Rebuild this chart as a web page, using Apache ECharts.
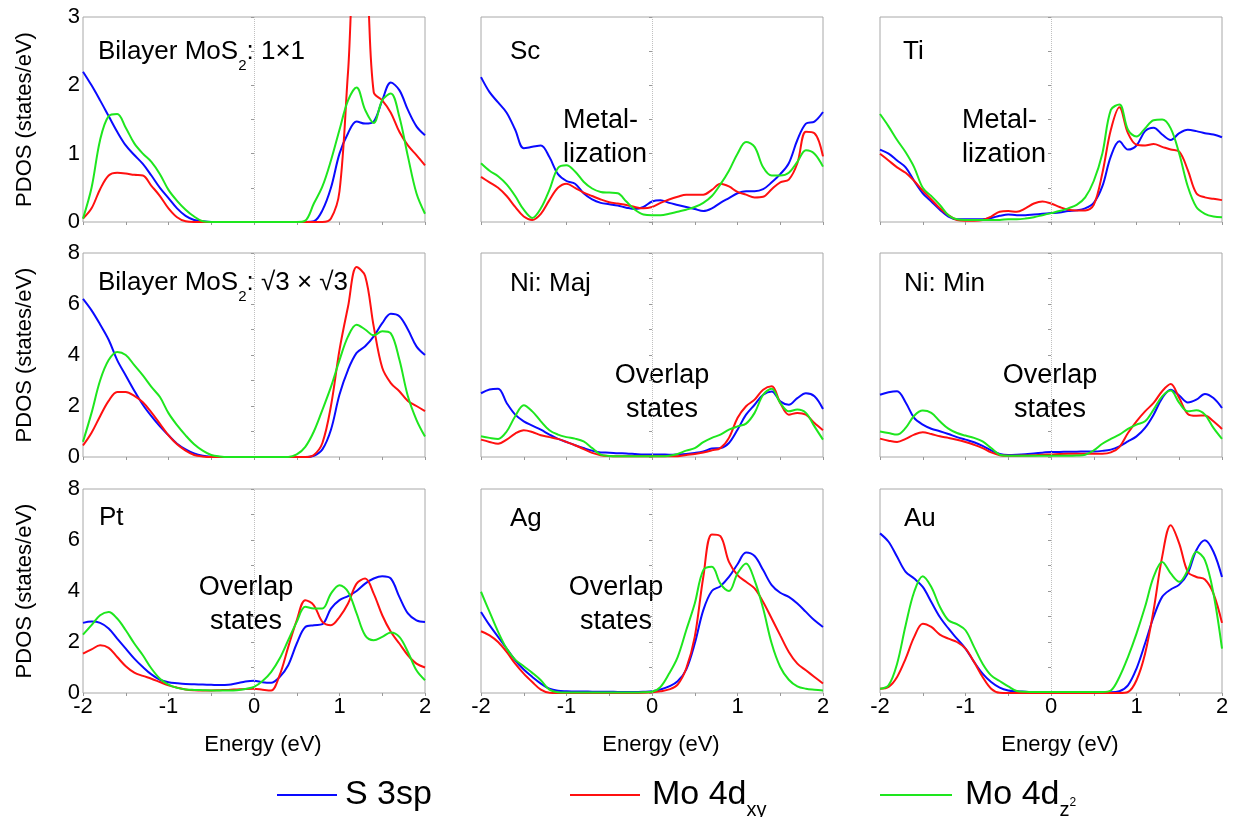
<!DOCTYPE html>
<html>
<head>
<meta charset="utf-8">
<title>PDOS panels</title>
<script src="https://cdn.jsdelivr.net/npm/echarts@6/dist/echarts.min.js"></script>
<style>
  html, body { margin: 0; padding: 0; background: #fff; }
  #main { width: 1240px; height: 817px; }
</style>
</head>
<body>
<div id="main"></div>
<script>
// energy grid in eV, shared by all nine panels
var energy = [-2.0, -1.9, -1.8, -1.7, -1.6, -1.5, -1.4, -1.3, -1.2, -1.1, -1.0,
              -0.9, -0.8, -0.7, -0.6, -0.5, -0.4, -0.3, -0.2, -0.1, 0.0,
               0.1,  0.2,  0.3,  0.4,  0.5,  0.6,  0.7,  0.8,  0.9, 1.0,
               1.1,  1.2,  1.3,  1.4,  1.5,  1.6,  1.7,  1.8,  1.9, 2.0];

// Bilayer MoS2: 1x1
var bl11S  = [2.2, 2.0, 1.78, 1.55, 1.32, 1.12, 0.98, 0.85, 0.68, 0.5, 0.35, 0.2, 0.09, 0.03, 0.01, 0, 0, 0, 0, 0, 0, 0, 0, 0, 0, 0, 0, 0.01, 0.17, 0.5, 1.0, 1.3, 1.47, 1.44, 1.47, 1.78, 2.04, 1.93, 1.64, 1.4, 1.27];
var bl11XY = [0.05, 0.2, 0.48, 0.68, 0.72, 0.71, 0.69, 0.68, 0.53, 0.38, 0.2, 0.07, 0.01, 0, 0, 0, 0, 0, 0, 0, 0, 0, 0, 0, 0, 0, 0, 0, 0, 0.05, 0.45, 2.2, 3.9, 3.8, 1.9, 1.78, 1.6, 1.32, 1.12, 0.98, 0.83];
var bl11Z2 = [0.05, 0.5, 1.2, 1.55, 1.58, 1.38, 1.15, 1.0, 0.88, 0.7, 0.47, 0.31, 0.18, 0.08, 0.01, 0, 0, 0, 0, 0, 0, 0, 0, 0, 0, 0, 0.02, 0.27, 0.52, 0.9, 1.35, 1.78, 1.97, 1.64, 1.45, 1.78, 1.88, 1.54, 0.96, 0.42, 0.12];
// Sc
var scS  = [2.12, 1.9, 1.75, 1.6, 1.35, 1.08, 1.1, 1.12, 0.95, 0.7, 0.6, 0.56, 0.42, 0.33, 0.28, 0.26, 0.24, 0.21, 0.19, 0.22, 0.3, 0.32, 0.28, 0.25, 0.22, 0.19, 0.16, 0.2, 0.28, 0.35, 0.42, 0.45, 0.45, 0.48, 0.58, 0.7, 0.86, 1.2, 1.44, 1.47, 1.61];
var scXY = [0.66, 0.58, 0.5, 0.38, 0.22, 0.08, 0.03, 0.12, 0.32, 0.5, 0.56, 0.5, 0.43, 0.38, 0.33, 0.29, 0.27, 0.25, 0.22, 0.2, 0.22, 0.28, 0.33, 0.37, 0.4, 0.4, 0.4, 0.47, 0.56, 0.52, 0.44, 0.4, 0.36, 0.37, 0.48, 0.58, 0.62, 0.86, 1.32, 1.3, 0.96];
var scZ2 = [0.86, 0.75, 0.67, 0.55, 0.38, 0.18, 0.06, 0.2, 0.47, 0.79, 0.83, 0.74, 0.59, 0.49, 0.44, 0.43, 0.42, 0.3, 0.18, 0.11, 0.1, 0.1, 0.12, 0.15, 0.18, 0.22, 0.28, 0.38, 0.55, 0.75, 1.0, 1.17, 1.1, 0.8, 0.68, 0.68, 0.72, 0.88, 1.05, 1.0, 0.81];
// Ti
var tiS  = [1.06, 1.0, 0.9, 0.8, 0.6, 0.42, 0.3, 0.18, 0.08, 0.04, 0.04, 0.04, 0.04, 0.06, 0.09, 0.11, 0.1, 0.1, 0.11, 0.12, 0.13, 0.14, 0.16, 0.17, 0.2, 0.28, 0.52, 0.96, 1.18, 1.06, 1.12, 1.33, 1.38, 1.28, 1.2, 1.3, 1.35, 1.33, 1.3, 1.28, 1.24];
var tiXY = [1.0, 0.9, 0.8, 0.72, 0.6, 0.46, 0.33, 0.2, 0.1, 0.03, 0.02, 0.02, 0.03, 0.08, 0.15, 0.16, 0.15, 0.2, 0.27, 0.3, 0.27, 0.22, 0.18, 0.17, 0.17, 0.25, 0.71, 1.35, 1.68, 1.3, 1.13, 1.12, 1.14, 1.1, 1.06, 1.03, 0.76, 0.42, 0.36, 0.34, 0.32];
var tiZ2 = [1.58, 1.4, 1.2, 1.02, 0.8, 0.5, 0.38, 0.25, 0.1, 0.04, 0.03, 0.03, 0.03, 0.03, 0.03, 0.04, 0.04, 0.05, 0.07, 0.1, 0.13, 0.16, 0.2, 0.25, 0.36, 0.6, 1.0, 1.64, 1.72, 1.35, 1.25, 1.37, 1.49, 1.5, 1.37, 1.0, 0.52, 0.22, 0.12, 0.08, 0.07];
// Bilayer MoS2: sqrt3 x sqrt3
var b33S  = [6.2, 5.75, 5.2, 4.6, 3.8, 3.2, 2.6, 2.05, 1.6, 1.2, 0.85, 0.52, 0.3, 0.14, 0.05, 0.01, 0, 0, 0, 0, 0, 0, 0, 0, 0, 0, 0, 0.05, 0.3, 1.07, 2.45, 3.42, 4.08, 4.34, 4.73, 5.25, 5.62, 5.52, 5.0, 4.34, 4.0];
var b33XY = [0.45, 0.95, 1.6, 2.2, 2.55, 2.55, 2.4, 2.15, 1.75, 1.3, 0.85, 0.5, 0.25, 0.08, 0.02, 0, 0, 0, 0, 0, 0, 0, 0, 0, 0, 0, 0, 0.08, 0.55, 2.0, 4.2, 5.9, 7.45, 7.1, 5.12, 3.5, 2.9, 2.58, 2.2, 2.0, 1.8];
var b33Z2 = [0.6, 1.73, 3.0, 3.8, 4.12, 4.0, 3.6, 3.2, 2.75, 2.35, 1.72, 1.25, 0.85, 0.5, 0.25, 0.08, 0.02, 0, 0, 0, 0, 0, 0, 0, 0, 0.1, 0.4, 1.0, 1.85, 2.75, 3.8, 4.73, 5.19, 5.0, 4.77, 4.93, 4.85, 3.82, 2.38, 1.46, 0.8];
// Ni: majority spin
var nmS  = [2.5, 2.65, 2.68, 2.12, 1.66, 1.4, 1.23, 1.07, 0.88, 0.71, 0.59, 0.46, 0.35, 0.25, 0.18, 0.17, 0.15, 0.14, 0.12, 0.1, 0.1, 0.1, 0.09, 0.1, 0.12, 0.16, 0.22, 0.33, 0.35, 0.55, 1.07, 1.66, 2.05, 2.44, 2.57, 2.18, 2.05, 2.31, 2.5, 2.38, 1.88];
var nmXY = [0.68, 0.59, 0.52, 0.68, 0.92, 1.05, 0.98, 0.85, 0.78, 0.71, 0.59, 0.46, 0.31, 0.16, 0.07, 0.04, 0.03, 0.03, 0.03, 0.03, 0.03, 0.03, 0.03, 0.03, 0.08, 0.12, 0.18, 0.26, 0.35, 0.75, 1.53, 1.99, 2.25, 2.64, 2.77, 2.12, 1.66, 1.73, 1.66, 1.33, 1.05];
var nmZ2 = [0.81, 0.75, 0.71, 1.0, 1.6, 2.03, 1.79, 1.4, 1.05, 0.88, 0.78, 0.72, 0.61, 0.35, 0.09, 0.04, 0.03, 0.03, 0.03, 0.03, 0.03, 0.03, 0.05, 0.12, 0.25, 0.35, 0.58, 0.75, 0.88, 1.07, 1.2, 1.31, 1.73, 2.44, 2.68, 2.12, 1.79, 1.86, 1.73, 1.2, 0.68];
// Ni: minority spin
var nnS  = [2.44, 2.54, 2.58, 2.14, 1.53, 1.27, 1.11, 1.01, 0.9, 0.78, 0.68, 0.58, 0.44, 0.26, 0.12, 0.08, 0.09, 0.11, 0.14, 0.17, 0.2, 0.2, 0.21, 0.21, 0.22, 0.22, 0.24, 0.29, 0.42, 0.61, 0.81, 1.14, 1.66, 2.31, 2.64, 2.41, 2.14, 2.25, 2.47, 2.31, 1.92];
var nnXY = [0.72, 0.64, 0.59, 0.71, 0.88, 0.97, 0.9, 0.81, 0.75, 0.68, 0.59, 0.48, 0.35, 0.18, 0.07, 0.05, 0.05, 0.06, 0.07, 0.09, 0.1, 0.12, 0.13, 0.13, 0.13, 0.13, 0.13, 0.18, 0.39, 0.94, 1.4, 1.79, 2.12, 2.58, 2.86, 2.31, 1.69, 1.62, 1.63, 1.4, 1.1];
var nnZ2 = [1.0, 0.94, 0.88, 1.14, 1.62, 1.82, 1.73, 1.4, 1.11, 0.94, 0.84, 0.75, 0.61, 0.35, 0.09, 0.05, 0.05, 0.05, 0.05, 0.05, 0.05, 0.05, 0.05, 0.06, 0.09, 0.26, 0.52, 0.71, 0.88, 1.1, 1.27, 1.4, 1.86, 2.38, 2.61, 2.12, 1.79, 1.83, 1.66, 1.14, 0.71];
// Pt
var ptS  = [2.75, 2.8, 2.75, 2.53, 2.13, 1.74, 1.35, 1.02, 0.73, 0.52, 0.42, 0.38, 0.35, 0.34, 0.33, 0.32, 0.31, 0.32, 0.38, 0.45, 0.48, 0.42, 0.4, 0.63, 1.09, 1.94, 2.59, 2.66, 2.7, 3.31, 3.64, 3.8, 4.0, 4.29, 4.49, 4.58, 4.49, 3.77, 3.12, 2.85, 2.78];
var ptXY = [1.54, 1.71, 1.87, 1.77, 1.41, 1.05, 0.8, 0.67, 0.56, 0.43, 0.3, 0.21, 0.14, 0.11, 0.1, 0.1, 0.11, 0.12, 0.14, 0.16, 0.17, 0.13, 0.1, 0.7, 1.8, 2.85, 3.64, 3.44, 2.79, 2.66, 2.98, 3.51, 4.29, 4.49, 3.9, 3.05, 2.4, 1.94, 1.48, 1.15, 1.0];
var ptZ2 = [2.29, 2.66, 3.05, 3.18, 2.92, 2.46, 1.94, 1.48, 0.96, 0.56, 0.33, 0.2, 0.14, 0.12, 0.11, 0.1, 0.1, 0.1, 0.11, 0.16, 0.24, 0.47, 0.82, 1.35, 2.07, 2.79, 3.38, 3.31, 3.31, 3.9, 4.23, 3.97, 3.12, 2.26, 2.07, 2.2, 2.37, 2.2, 1.61, 0.89, 0.5];
// Ag
var agS  = [3.18, 2.66, 2.2, 1.74, 1.28, 0.92, 0.63, 0.37, 0.17, 0.09, 0.07, 0.06, 0.06, 0.05, 0.05, 0.05, 0.04, 0.04, 0.04, 0.05, 0.07, 0.14, 0.26, 0.46, 0.92, 1.94, 3.25, 4.0, 4.19, 4.55, 5.05, 5.51, 5.37, 4.82, 4.23, 3.93, 3.77, 3.51, 3.18, 2.85, 2.59];
var agXY = [2.42, 2.26, 2.0, 1.61, 1.15, 0.76, 0.43, 0.13, 0.01, 0, 0, 0, 0, 0, 0, 0, 0, 0, 0, 0.01, 0.03, 0.07, 0.14, 0.33, 0.96, 2.2, 4.55, 6.22, 6.15, 5.14, 4.62, 4.36, 4.1, 3.57, 2.92, 2.26, 1.61, 1.15, 0.89, 0.63, 0.37];
var agZ2 = [3.97, 3.18, 2.4, 1.74, 1.31, 1.05, 0.79, 0.5, 0.13, 0.03, 0.02, 0.02, 0.02, 0.02, 0.02, 0.02, 0.02, 0.02, 0.02, 0.03, 0.05, 0.24, 0.76, 1.41, 2.46, 3.51, 4.82, 4.95, 4.29, 4.0, 4.69, 5.08, 4.42, 3.31, 1.94, 1.02, 0.52, 0.26, 0.17, 0.13, 0.1];
// Au
var auS  = [6.26, 5.93, 5.34, 4.75, 4.49, 4.16, 3.57, 2.98, 2.53, 2.13, 1.74, 1.22, 0.76, 0.43, 0.21, 0.1, 0.07, 0.05, 0.03, 0.03, 0.03, 0.03, 0.03, 0.03, 0.03, 0.03, 0.03, 0.03, 0.07, 0.3, 0.96, 1.94, 2.98, 3.77, 4.06, 4.25, 4.69, 5.6, 5.99, 5.54, 4.55];
var auXY = [0.17, 0.24, 0.63, 1.35, 2.2, 2.72, 2.59, 2.29, 2.13, 2.0, 1.74, 1.22, 0.63, 0.17, 0.01, 0, 0, 0, 0, 0, 0, 0, 0, 0, 0, 0, 0, 0, 0, 0.04, 0.5, 1.54, 3.25, 5.34, 6.58, 5.86, 4.75, 4.55, 4.45, 3.9, 2.75];
var auZ2 = [0.17, 0.3, 1.15, 2.66, 3.97, 4.58, 4.16, 3.38, 2.85, 2.7, 2.46, 1.81, 1.15, 0.69, 0.47, 0.26, 0.08, 0.05, 0.04, 0.04, 0.04, 0.04, 0.04, 0.04, 0.04, 0.04, 0.04, 0.1, 0.63, 1.41, 2.33, 3.38, 4.55, 5.14, 4.69, 4.36, 4.82, 5.54, 5.21, 3.9, 1.74];

var seriesNames = ['S 3sp', 'Mo 4dxy', 'Mo 4dz2'];
var colors = ['#0a0aff', '#ff1010', '#1ee61e'];
var yTicks = [[0, 3, 1], [0, 8, 2], [0, 8, 2]];   // min, max, step per row

var panels = [
  [bl11S, bl11XY, bl11Z2], [scS, scXY, scZ2], [tiS, tiXY, tiZ2],
  [b33S, b33XY, b33Z2],    [nmS, nmXY, nmZ2], [nnS, nnXY, nnZ2],
  [ptS, ptXY, ptZ2],       [agS, agXY, agZ2], [auS, auXY, auZ2]
];

var FONT = "'Liberation Sans', Arial, Helvetica, sans-serif";
var lefts = [83, 481, 880];
var tops = [17, 253, 489];
var heights = [205, 204, 204];

function pairs(ys) {
  return energy.map(function (e, i) { return [e, ys[i]]; });
}

var grid = [], xAxis = [], yAxis = [], series = [];
panels.forEach(function (p, k) {
  var r = Math.floor(k / 3), c = k % 3;
  grid.push({ left: lefts[c], top: tops[r], width: 342, height: heights[r],
              show: true, borderColor: '#a8a8a8', borderWidth: 1 });
  xAxis.push({
    type: 'value', gridIndex: k, min: -2, max: 2, interval: 1,
    axisLine: { show: false },
    axisTick: { show: true, length: 3, lineStyle: { color: '#999' } },
    minorTick: { show: true, splitNumber: 2, length: 3, lineStyle: { color: '#999' } },
    splitLine: { show: false },
    axisLabel: { show: r === 2, fontSize: 22, color: '#000', margin: 3, fontFamily: FONT },
    name: r === 2 ? 'Energy (eV)' : '',
    nameLocation: 'middle', nameGap: 41,
    nameTextStyle: { fontSize: 22, color: '#000', fontFamily: FONT, padding: [0, 0, 0, 18] }
  });
  yAxis.push({
    type: 'value', gridIndex: k, min: yTicks[r][0], max: yTicks[r][1], interval: yTicks[r][2],
    axisLine: { show: false },
    axisTick: { show: true, length: 3, lineStyle: { color: '#999' } },
    minorTick: { show: true, splitNumber: 2, length: 3, lineStyle: { color: '#999' } },
    splitLine: { show: false },
    axisLabel: { show: c === 0, fontSize: 22, color: '#000', margin: 3, fontFamily: FONT },
    name: c === 0 ? 'PDOS (states/eV)' : '',
    nameLocation: 'middle', nameGap: 47,
    nameTextStyle: { fontSize: 22, color: '#000', fontFamily: FONT }
  });
  p.forEach(function (ys, j) {
    var s = {
      type: 'line', name: seriesNames[j], xAxisIndex: k, yAxisIndex: k,
      data: pairs(ys), showSymbol: false, symbol: 'none', smooth: 0.35,
      lineStyle: { width: 2, color: colors[j] }, itemStyle: { color: colors[j] },
      silent: true, z: 3 + j
    };
    if (j === 0) {
      s.markLine = {
        silent: true, symbol: ['none', 'none'], label: { show: false },
        lineStyle: { type: 'dotted', color: '#c0c0c0', width: 1 },
        data: [{ xAxis: 0 }]
      };
    }
    series.push(s);
  });
});

var legendRich = {
  m: { fontSize: 34, fontFamily: FONT, color: '#000', lineHeight: 38, verticalAlign: 'middle' },
  s: { fontSize: 20, fontFamily: FONT, color: '#000', lineHeight: 22, verticalAlign: 'middle', padding: [30, 0, 0, 0] },
  t: { fontSize: 12, fontFamily: FONT, color: '#000', lineHeight: 14, verticalAlign: 'middle', padding: [16, 0, 0, 0] }
};
var legendText = {
  'S 3sp': '{m|S 3sp}{s| }',
  'Mo 4dxy': '{m|Mo 4d}{s|xy}',
  'Mo 4dz2': '{m|Mo 4d}{s|z}{t|2}'
};
function makeLegend(name, left, lineLen, gap) {
  return {
    data: [name], left: left, top: 770, padding: 0, icon: 'rect',
    itemWidth: lineLen, itemHeight: 2, selectedMode: false,
    formatter: function (n) { return legendText[n]; },
    textStyle: { fontSize: 34, fontFamily: FONT, color: '#000', padding: [0, 0, 0, gap], rich: legendRich }
  };
}

function label(x, y, text, size, align, lh) {
  return {
    type: 'text', x: x, y: y, silent: true,
    style: {
      text: text, fill: '#000', fontSize: size, fontFamily: FONT,
      align: align, verticalAlign: 'middle', textAlign: align, textVerticalAlign: 'middle',
      lineHeight: lh || size,
      rich: {
        a: { fontSize: size, fontFamily: FONT, fill: '#000', verticalAlign: 'middle' },
        s: { fontSize: 15, fontFamily: FONT, fill: '#000', verticalAlign: 'middle', padding: [27, 0, 0, 0] }
      }
    }
  };
}

var graphics = [
  label(98, 52, '{a|Bilayer MoS}{s|2}{a|: 1\u00d71}', 26, 'left'),
  label(510, 52, 'Sc', 26, 'left'),
  label(903, 52, 'Ti', 26, 'left'),
  label(98, 283, '{a|Bilayer MoS}{s|2}{a|: \u221a3 \u00d7 \u221a3}', 26, 'left'),
  label(510, 284, 'Ni: Maj', 26, 'left'),
  label(904, 284, 'Ni: Min', 26, 'left'),
  label(99, 518, 'Pt', 26, 'left'),
  label(510, 519, 'Ag', 26, 'left'),
  label(904, 519, 'Au', 26, 'left'),
  label(563, 138, 'Metal-\nlization', 27, 'left', 34),
  label(962, 138, 'Metal-\nlization', 27, 'left', 34),
  label(662, 393, 'Overlap\nstates', 27, 'center', 34),
  label(1050, 393, 'Overlap\nstates', 27, 'center', 34),
  label(246, 605, 'Overlap\nstates', 27, 'center', 34),
  label(616, 605, 'Overlap\nstates', 27, 'center', 34)
];

var chart = echarts.init(document.getElementById('main'), null, { renderer: 'canvas' });
chart.setOption({
  backgroundColor: '#fff',
  animation: false,
  grid: grid,
  xAxis: xAxis,
  yAxis: yAxis,
  legend: [
    makeLegend('S 3sp', 277, 60, 3),
    makeLegend('Mo 4dxy', 570, 70, 7),
    makeLegend('Mo 4dz2', 880, 72, 8)
  ],
  graphic: graphics,
  series: series
});
</script>
</body>
</html>
